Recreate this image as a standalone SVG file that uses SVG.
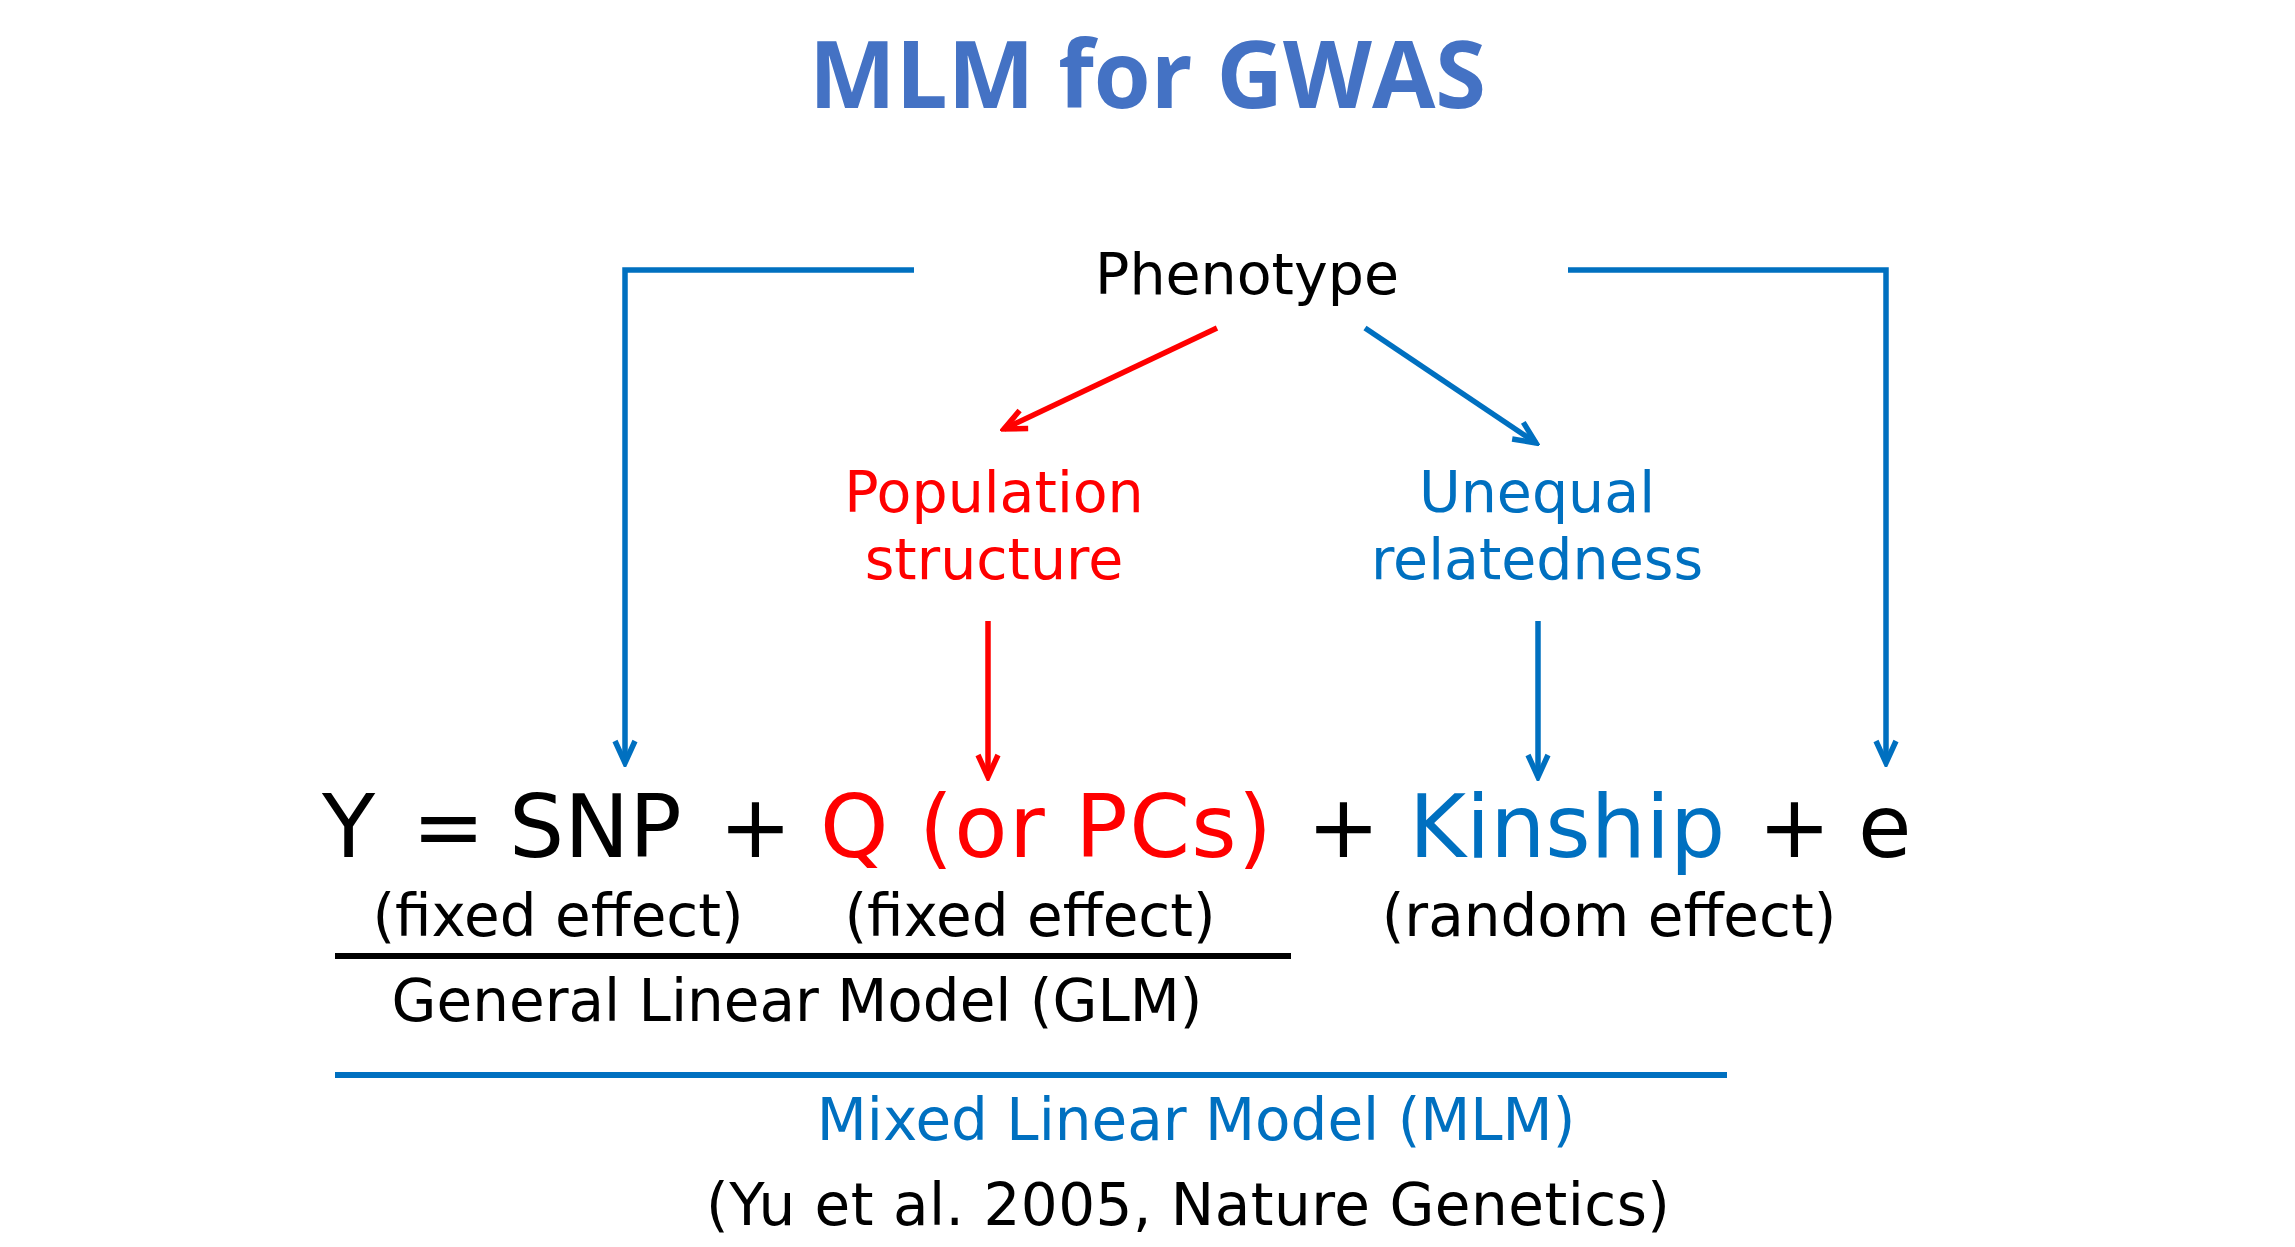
<svg xmlns="http://www.w3.org/2000/svg" width="2295" height="1247" viewBox="0 0 2295 1247">
<style>
.t{font-family:"DejaVu Sans","Verdana",sans-serif;}
.blk{fill:#000000;}
.red{fill:#FF0000;}
.blu{fill:#0070C0;}
.cb{fill:none;stroke:#0070C0;stroke-width:5.5;}
.cr{fill:none;stroke:#FF0000;stroke-width:5.5;}
</style>
<defs>
<marker id="ab" viewBox="-26 -13 30 26" markerWidth="30" markerHeight="26" refX="0" refY="0" orient="auto" markerUnits="userSpaceOnUse">
<path d="M -22 -10 L 0 0 L -22 10" fill="none" stroke="#0070C0" stroke-width="5.5"/>
</marker>
<marker id="ar" viewBox="-26 -13 30 26" markerWidth="30" markerHeight="26" refX="0" refY="0" orient="auto" markerUnits="userSpaceOnUse">
<path d="M -22 -10 L 0 0 L -22 10" fill="none" stroke="#FF0000" stroke-width="5.5"/>
</marker>
</defs>
<rect width="2295" height="1247" fill="#FFFFFF"/>
<g id="title"><text x="809" y="108" font-family="Open Sans, Noto Sans, sans-serif" font-weight="bold" font-size="94" fill="#4472C4" textLength="677" lengthAdjust="spacingAndGlyphs">MLM for GWAS</text></g>
<g id="phenotype"><text class="t blk" x="1247" y="294" font-size="57" text-anchor="middle">Phenotype</text></g>
<g id="population"><text class="t red" x="994" y="512" font-size="57" text-anchor="middle">Population</text><text class="t red" x="994" y="579" font-size="57" text-anchor="middle">structure</text></g>
<g id="relatedness"><text class="t blu" x="1537" y="512" font-size="57" text-anchor="middle">Unequal</text><text class="t blu" x="1537" y="579" font-size="57" text-anchor="middle">relatedness</text></g>
<g id="equation"><text class="t blk" y="857" font-size="87"><tspan x="322">Y</tspan><tspan x="412">=</tspan><tspan x="509">SNP</tspan><tspan x="719">+</tspan><tspan class="red" x="820" textLength="452" lengthAdjust="spacing">Q (or PCs)</tspan><tspan x="1307">+</tspan><tspan class="blu" x="1409">Kinship</tspan><tspan x="1758">+</tspan><tspan x="1858">e</tspan></text></g>
<g id="effects"><text class="t blk" x="558" y="936" font-size="58" text-anchor="middle">(fixed effect)</text><text class="t blk" x="1030" y="936" font-size="58" text-anchor="middle">(fixed effect)</text><text class="t blk" x="1609" y="936" font-size="58" text-anchor="middle">(random effect)</text></g>
<g id="glm"><line x1="335" y1="956" x2="1291" y2="956" stroke="#000000" stroke-width="6"/><text class="t blk" x="797" y="1021" font-size="58" text-anchor="middle">General Linear Model (GLM)</text></g>
<g id="mlm"><line x1="335" y1="1075" x2="1727" y2="1075" stroke="#0070C0" stroke-width="6"/><text class="t blu" x="1196" y="1140" font-size="58" text-anchor="middle">Mixed Linear Model (MLM)</text></g>
<g id="citation"><text class="t blk" x="706" y="1225" font-size="58" textLength="964" lengthAdjust="spacing">(Yu et al. 2005, Nature Genetics)</text></g>
<g id="connectors">
<path class="cb" d="M 914 270 L 625 270 L 625 763" marker-end="url(#ab)"/>
<path class="cb" d="M 1568 270 L 1886 270 L 1886 763" marker-end="url(#ab)"/>
<line class="cr" x1="1217" y1="328" x2="1004" y2="429" marker-end="url(#ar)"/>
<line class="cb" x1="1365" y1="328" x2="1536" y2="443" marker-end="url(#ab)"/>
<line class="cr" x1="988" y1="621" x2="988" y2="777" marker-end="url(#ar)"/>
<line class="cb" x1="1538" y1="621" x2="1538" y2="777" marker-end="url(#ab)"/>
</g>
</svg>
